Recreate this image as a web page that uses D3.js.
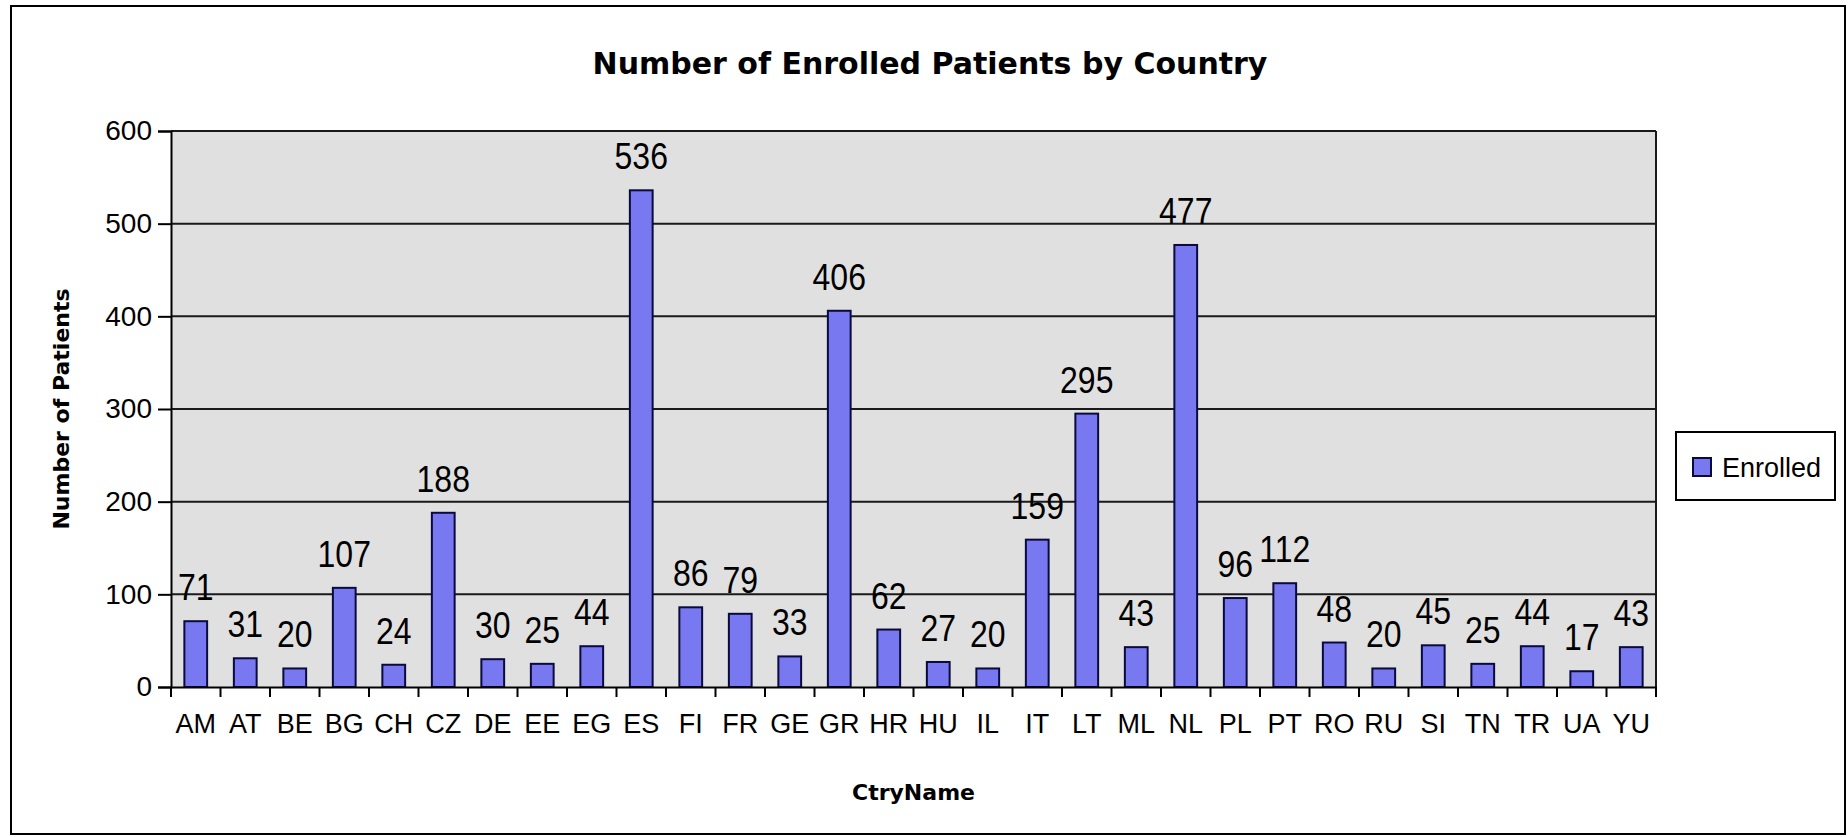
<!doctype html>
<html>
<head>
<meta charset="UTF-8">
<title>Number of Enrolled Patients by Country</title>
<style>
  body { margin: 0; background: #fff; }
  svg text { fill: #000; }
  .tick-lbl { font-family: "Liberation Sans", Arial, sans-serif; font-size: 27px; }
  .bold { font-family: "DejaVu Sans", Tahoma, sans-serif; font-weight: bold; }
</style>
<script src="https://d3js.org/d3.v7.min.js"></script>
</head>
<body>
<svg id="chart" width="1848" height="837"></svg>
<script>
// data
var countries = ["AM","AT","BE","BG","CH","CZ","DE","EE","EG","ES","FI","FR","GE","GR","HR",
                 "HU","IL","IT","LT","ML","NL","PL","PT","RO","RU","SI","TN","TR","UA","YU"];
var enrolled = [71,31,20,107,24,188,30,25,44,536,86,79,33,406,62,
                27,20,159,295,43,477,96,112,48,20,45,25,44,17,43];
var yTicks = [0,100,200,300,400,500,600];
var seriesName = "Enrolled";

var svg = d3.select("#chart");

// plot area (don't call it "top", that's window.top)
var plotL = 171, plotR = 1656, plotT = 131, plotB = 687;

var x = d3.scaleBand()
    .domain(countries)
    .range([plotL, plotR])
    .paddingInner(0.54)
    .paddingOuter(0.27);

var y = d3.scaleLinear()
    .domain([0, 600])
    .range([plotB, plotT]);

// outer chart border
svg.append("rect")
    .attr("x", 11).attr("y", 6)
    .attr("width", 1834).attr("height", 828)
    .attr("fill", "#fff")
    .attr("stroke", "#000").attr("stroke-width", 2);

// plot background
svg.append("rect")
    .attr("x", plotL).attr("y", plotT)
    .attr("width", plotR - plotL).attr("height", plotB - plotT)
    .attr("fill", "#e0e0e0");

// gridlines
svg.append("g").selectAll("line")
    .data(yTicks.filter(function(d) { return d > 0; }))
    .enter().append("line")
    .attr("x1", plotL).attr("x2", plotR)
    .attr("y1", function(d) { return y(d); })
    .attr("y2", function(d) { return y(d); })
    .attr("stroke", "#1a1a1a").attr("stroke-width", 2);

// right edge of plot
svg.append("line")
    .attr("x1", plotR).attr("x2", plotR)
    .attr("y1", plotT).attr("y2", plotB)
    .attr("stroke", "#1a1a1a").attr("stroke-width", 2);

// bars
svg.append("g").selectAll("rect")
    .data(countries)
    .enter().append("rect")
    .attr("x", function(d) { return x(d); })
    .attr("y", function(d, i) { return y(enrolled[i]); })
    .attr("width", x.bandwidth())
    .attr("height", function(d, i) { return plotB - y(enrolled[i]); })
    .attr("fill", "#7878f0")
    .attr("stroke", "#0a0a3c")
    .attr("stroke-width", 2);

// value labels (a bit taller than wide, like the original)
svg.append("g").selectAll("text")
    .data(countries)
    .enter().append("text")
    .attr("class", "tick-lbl")
    .attr("text-anchor", "middle")
    .style("font-size", "32px")
    .attr("transform", function(d, i) {
        return "translate(" + (x(d) + x.bandwidth() / 2) + "," + (y(enrolled[i]) - 21) + ") scale(1,1.15)";
    })
    .text(function(d, i) { return enrolled[i]; });

// y axis
var yAxis = d3.axisLeft(y)
    .tickValues(yTicks)
    .tickSize(13)
    .tickPadding(6);
var gy = svg.append("g")
    .attr("transform", "translate(" + plotL + ",0)")
    .call(yAxis);
gy.attr("font-size", null).attr("font-family", null);
gy.select(".domain").attr("stroke", "#000").attr("stroke-width", 2);
gy.selectAll(".tick line").attr("stroke", "#000").attr("stroke-width", 2);
gy.selectAll(".tick text").attr("class", "tick-lbl").style("font-size", "28px");

// x axis (labels only, ticks drawn on category boundaries)
var xAxis = d3.axisBottom(x).tickSize(0).tickPadding(27);
var gx = svg.append("g")
    .attr("transform", "translate(0," + plotB + ")")
    .call(xAxis);
gx.attr("font-size", null).attr("font-family", null);
gx.select(".domain").attr("stroke", "#000").attr("stroke-width", 2);
gx.selectAll(".tick text").attr("class", "tick-lbl");

var step = x.step();
gx.append("g").selectAll("line")
    .data(d3.range(countries.length + 1))
    .enter().append("line")
    .attr("x1", function(i) { return plotL + i * step; })
    .attr("x2", function(i) { return plotL + i * step; })
    .attr("y1", 0).attr("y2", 10)
    .attr("stroke", "#000").attr("stroke-width", 2);

// titles
svg.append("text")
    .attr("class", "bold")
    .attr("x", 930).attr("y", 74)
    .attr("text-anchor", "middle")
    .style("font-size", "30px")
    .text("Number of Enrolled Patients by Country");

svg.append("text")
    .attr("class", "bold")
    .attr("x", (plotL + plotR) / 2).attr("y", 800)
    .attr("text-anchor", "middle")
    .style("font-size", "22px")
    .text("CtryName");

svg.append("text")
    .attr("class", "bold")
    .attr("transform", "translate(69," + ((plotT + plotB) / 2) + ") rotate(-90)")
    .attr("text-anchor", "middle")
    .style("font-size", "22px")
    .text("Number of Patients");

// legend
var lg = svg.append("g").attr("transform", "translate(1676,432)");
lg.append("rect")
    .attr("width", 159).attr("height", 68)
    .attr("fill", "#fff")
    .attr("stroke", "#000").attr("stroke-width", 2);
lg.append("rect")
    .attr("x", 17).attr("y", 26)
    .attr("width", 18).attr("height", 18)
    .attr("fill", "#7878f0")
    .attr("stroke", "#0a0a3c").attr("stroke-width", 2);
lg.append("text")
    .attr("class", "tick-lbl")
    .attr("x", 46).attr("y", 45)
    .text(seriesName);
</script>
</body>
</html>
